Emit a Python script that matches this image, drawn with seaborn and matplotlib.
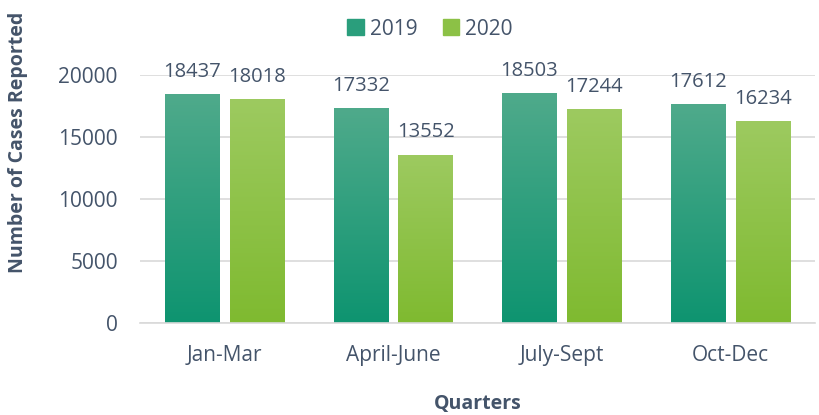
import numpy as np
import pandas as pd
import matplotlib
matplotlib.use("Agg")
import matplotlib.pyplot as plt
from matplotlib.colors import LinearSegmentedColormap
from matplotlib.patches import Patch
import seaborn as sns

quarters = ["Jan-Mar", "April-June", "July-Sept", "Oct-Dec"]
cases_2019 = [18437, 17332, 18503, 17612]
cases_2020 = [18018, 13552, 17244, 16234]
years = ["2019", "2020"]

# colours: (top, bottom) of the gradient
grad_2019 = ("#4faa8b", "#0e9470")
grad_2020 = ("#9dca60", "#7fba30")
text_col = "#44546a"

df = pd.DataFrame({
    "Quarter": quarters * 2,
    "Year": [years[0]] * 4 + [years[1]] * 4,
    "Cases": cases_2019 + cases_2020,
})

sns.set_style("white")
plt.rcParams["font.family"] = ["Open Sans", "DejaVu Sans"]

fig = plt.figure(figsize=(8.19, 4.15), dpi=100)
ax = fig.add_axes([0.171, 0.222, 0.824, 0.597])

sns.barplot(data=df, x="Quarter", y="Cases", hue="Year", order=quarters,
            hue_order=years, palette=[grad_2019[1], grad_2020[1]],
            width=0.77, gap=0.165, ax=ax, legend=False, errorbar=None)

grad = np.linspace(0, 1, 256).reshape(-1, 1)
for cont, (top, bot) in zip(ax.containers, [grad_2019, grad_2020]):
    cmap = LinearSegmentedColormap.from_list("g", [bot, top])
    for bar in cont:
        x, w, h = bar.get_x(), bar.get_width(), bar.get_height()
        ax.imshow(grad, extent=[x, x + w, 0, h], origin="lower", aspect="auto",
                  cmap=cmap, zorder=2)
        bar.set_visible(False)
        ax.annotate(f"{int(h)}", (x + w / 2, h), xytext=(0, 9),
                    textcoords="offset points", ha="center", va="bottom",
                    fontsize=14.5, color=text_col, annotation_clip=False)

ax.set_xlim(-0.5, 3.5)
ax.set_ylim(0, 20000)
ax.set_yticks([0, 5000, 10000, 15000, 20000])
ax.yaxis.grid(True, color="#d9d9d9", lw=1.2)
ax.set_axisbelow(True)
for s in ["top", "right", "left"]:
    ax.spines[s].set_visible(False)
ax.spines["bottom"].set_color("#d9d9d9")
ax.spines["bottom"].set_linewidth(1.2)
ax.tick_params(axis="both", length=0, labelsize=15, labelcolor=text_col)
ax.tick_params(axis="y", pad=16)
ax.tick_params(axis="x", pad=16)

ax.set_xlabel("Quarters", fontsize=14, fontweight="bold", color=text_col, labelpad=20)
ax.set_ylabel("Number of Cases Reported", fontsize=14, fontweight="bold",
              color=text_col)
ax.yaxis.set_label_coords(-0.166, 0.73)

handles = [Patch(color="#2a9e7c", label="2019"), Patch(color="#8cc146", label="2020")]
fig.legend(handles=handles, loc="center", bbox_to_anchor=(0.525, 0.93), ncol=2,
           frameon=False, fontsize=15, labelcolor=text_col, handlelength=0.8,
           handleheight=0.8, columnspacing=1.2, handletextpad=0.3)

fig.savefig("out.png", dpi=100)
